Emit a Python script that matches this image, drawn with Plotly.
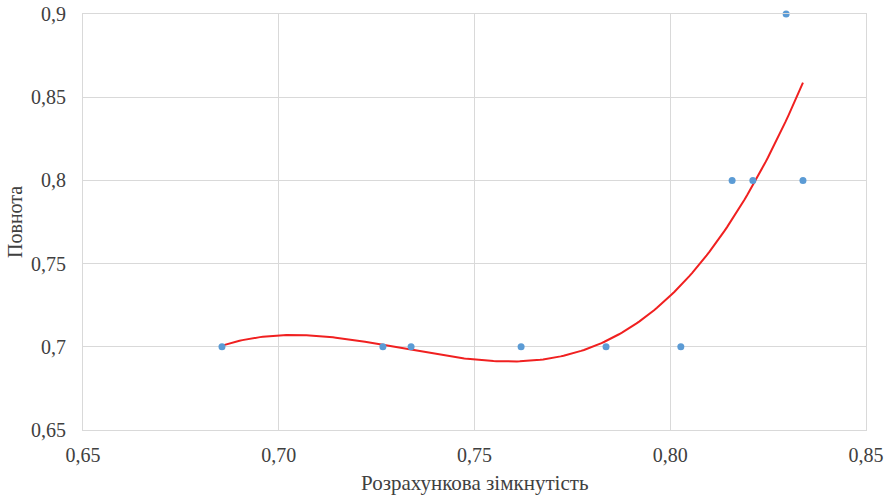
import numpy as np
import plotly.graph_objects as go

closeness = [0.6855, 0.7266, 0.7338, 0.7619, 0.7836, 0.8027, 0.8158, 0.8211, 0.8296, 0.8339]
recall = [0.7, 0.7, 0.7, 0.7, 0.7, 0.7, 0.8, 0.8, 0.9, 0.8]

x_ticks = [0.65, 0.70, 0.75, 0.80, 0.85]
x_tick_labels = ["0,65", "0,70", "0,75", "0,80", "0,85"]
y_ticks = [0.65, 0.70, 0.75, 0.80, 0.85, 0.90]
y_tick_labels = ["0,65", "0,7", "0,75", "0,8", "0,85", "0,9"]

# polynomial (order 3) trendline, as in the spreadsheet
coef = np.polyfit(closeness, recall, 3)
xt = np.linspace(min(closeness), max(closeness), 200)
yt = np.polyval(coef, xt)

family = "Liberation Serif, Times New Roman, serif"
font = dict(family=family, size=20, color="#404040")
title_font = dict(family=family, size=21, color="#404040")

fig = go.Figure()
fig.add_trace(go.Scatter(x=xt, y=yt, mode="lines",
                         line=dict(color="#F02020", width=2), hoverinfo="skip"))
fig.add_trace(go.Scatter(x=closeness, y=recall, mode="markers",
                         marker=dict(color="#5B9BD5", size=7), cliponaxis=False))

fig.update_layout(
    width=887, height=495,
    margin=dict(l=83, r=21, t=14, b=65),
    paper_bgcolor="white", plot_bgcolor="white",
    showlegend=False,
    font=font,
    annotations=[
        dict(text="Розрахункова зімкнутість", xref="paper", yref="paper",
             x=0.5, y=-52.5 / 416, xanchor="center", yanchor="middle",
             showarrow=False, font=title_font),
        dict(text="Повнота", xref="paper", yref="paper",
             x=-68 / 783, y=0.5, xanchor="center", yanchor="middle",
             textangle=-90, showarrow=False, font=font),
    ],
)
fig.update_xaxes(range=[0.65, 0.85], tickvals=x_ticks, ticktext=x_tick_labels,
                 showgrid=True, gridcolor="#D9D9D9", gridwidth=1,
                 showline=True, linecolor="#D9D9D9", mirror=True, zeroline=False,
                 ticks="", ticklabelstandoff=7, automargin=False)
fig.update_yaxes(range=[0.65, 0.90], tickvals=y_ticks, ticktext=y_tick_labels,
                 showgrid=True, gridcolor="#D9D9D9", gridwidth=1,
                 showline=True, linecolor="#D9D9D9", mirror=True, zeroline=False,
                 ticks="", ticklabelstandoff=12, automargin=False)

fig.write_html("out.html", config={"displayModeBar": False},
               post_script="document.body.style.margin='0px';")
